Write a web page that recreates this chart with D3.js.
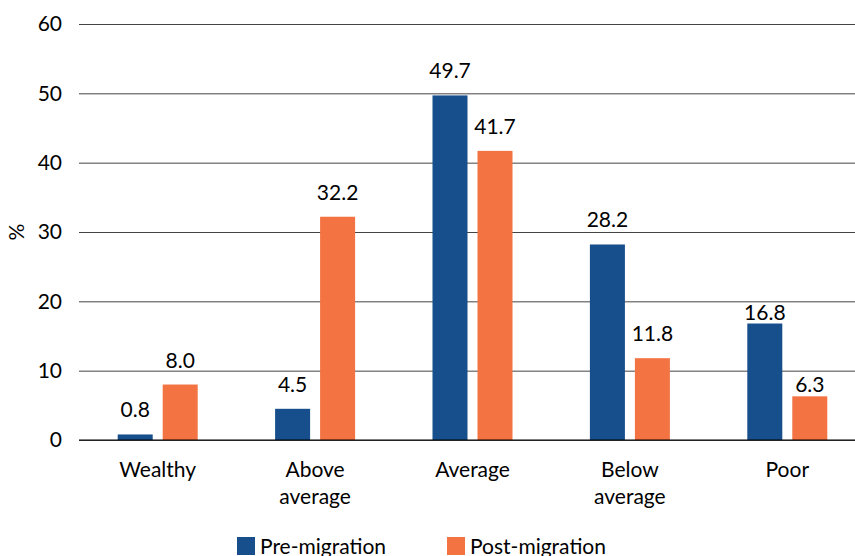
<html>
<head>
    <meta charset="utf-8">
    <title>Wealth status</title>
    <script src="https://cdn.jsdelivr.net/npm/d3@7"></script>
    <style>
        body { margin: 0; background: #fff; }
        text { font-family: Lato, "Open Sans", sans-serif; fill: #000; }
    </style>
</head>
<body>
<div id="chart"></div>
<script>
    // data
    var categories = ["Wealthy", "Above average", "Average", "Below average", "Poor"];
    var categoryLines = [["Wealthy"], ["Above", "average"], ["Average"], ["Below", "average"], ["Poor"]];
    var seriesNames = ["Pre-migration", "Post-migration"];
    var preMigration = [0.8, 4.5, 49.7, 28.2, 16.8];
    var postMigration = [8.0, 32.2, 41.7, 11.8, 6.3];
    var yTicks = [0, 10, 20, 30, 40, 50, 60];
    var colors = ["#174f8c", "#f37343"];

    var width = 855, height = 556;
    var fs = "21px";
    var svg = d3.select("#chart").append("svg")
        .attr("width", width)
        .attr("height", height);

    var x0 = d3.scaleBand().domain(categories).range([79, 866]).padding(0);
    var x1 = d3.scaleBand().domain(seriesNames).range([-40, 40]).paddingInner(0.222).paddingOuter(0);
    var y = d3.scaleLinear().domain([0, 60]).range([440, 24]);

    // gridlines + y labels
    var yAxis = d3.axisLeft(y).tickValues(yTicks).tickSize(-(width - 79)).tickPadding(17);
    var gy = svg.append("g").attr("transform", "translate(79,0)").call(yAxis);
    gy.select(".domain").remove();
    gy.selectAll("line").attr("stroke", "#444").attr("stroke-width", 1);
    gy.selectAll("text").style("font-size", fs).style("font-family", "Lato, sans-serif").attr("fill", "#000");

    svg.append("text")
        .attr("transform", "translate(24,232) rotate(-90)")
        .attr("text-anchor", "middle")
        .style("font-size", fs)
        .text("%");

    var rows = categories.map(function (c, i) {
        return { cat: c, vals: [preMigration[i], postMigration[i]] };
    });

    var groups = svg.selectAll("g.cat").data(rows).enter()
        .append("g").attr("class", "cat")
        .attr("transform", function (d) { return "translate(" + (x0(d.cat) + x0.bandwidth() / 2) + ",0)"; });

    groups.selectAll("rect")
        .data(function (d) { return d.vals.map(function (v, j) { return { s: seriesNames[j], v: v, j: j }; }); })
        .enter().append("rect")
        .attr("x", function (d) { return x1(d.s); })
        .attr("width", x1.bandwidth())
        .attr("y", function (d) { return y(d.v); })
        .attr("height", function (d) { return y(0) - y(d.v); })
        .attr("fill", function (d) { return colors[d.j]; });

    // value labels (the Poor ones sit lower in the original)
    groups.each(function (row) {
        var nudge = row.cat == "Poor" ? 13 : 0;
        d3.select(this).selectAll("text.val")
            .data(row.vals.map(function (v, j) { return { s: seriesNames[j], v: v }; }))
            .enter().append("text").attr("class", "val")
            .attr("x", function (d) { return x1(d.s) + x1.bandwidth() / 2; })
            .attr("y", function (d) { return y(d.v) - 17 + nudge; })
            .attr("text-anchor", "middle")
            .style("font-size", fs)
            .text(function (d) { return d.v.toFixed(1); });
    });

    // zero line
    svg.append("line")
        .attr("x1", 79).attr("x2", width)
        .attr("y1", y(0)).attr("y2", y(0))
        .attr("stroke", "#000").attr("stroke-width", 1.2);

    // category labels
    groups.each(function (row, i) {
        var t = d3.select(this).append("text")
            .attr("text-anchor", "middle")
            .style("font-size", fs);
        categoryLines[i].forEach(function (line, k) {
            t.append("tspan").attr("x", 0).attr("y", 477 + k * 27).text(line);
        });
    });

    // legend
    var legend = svg.selectAll("g.leg").data(seriesNames).enter()
        .append("g").attr("class", "leg")
        .attr("transform", function (d, i) { return "translate(" + (i == 0 ? 237 : 447) + ",537)"; });
    legend.append("rect").attr("width", 18).attr("height", 18)
        .attr("fill", function (d, i) { return colors[i]; });
    legend.append("text").attr("x", 23).attr("y", 17)
        .style("font-size", fs)
        .text(function (d) { return d; });
</script>
</body>
</html>
